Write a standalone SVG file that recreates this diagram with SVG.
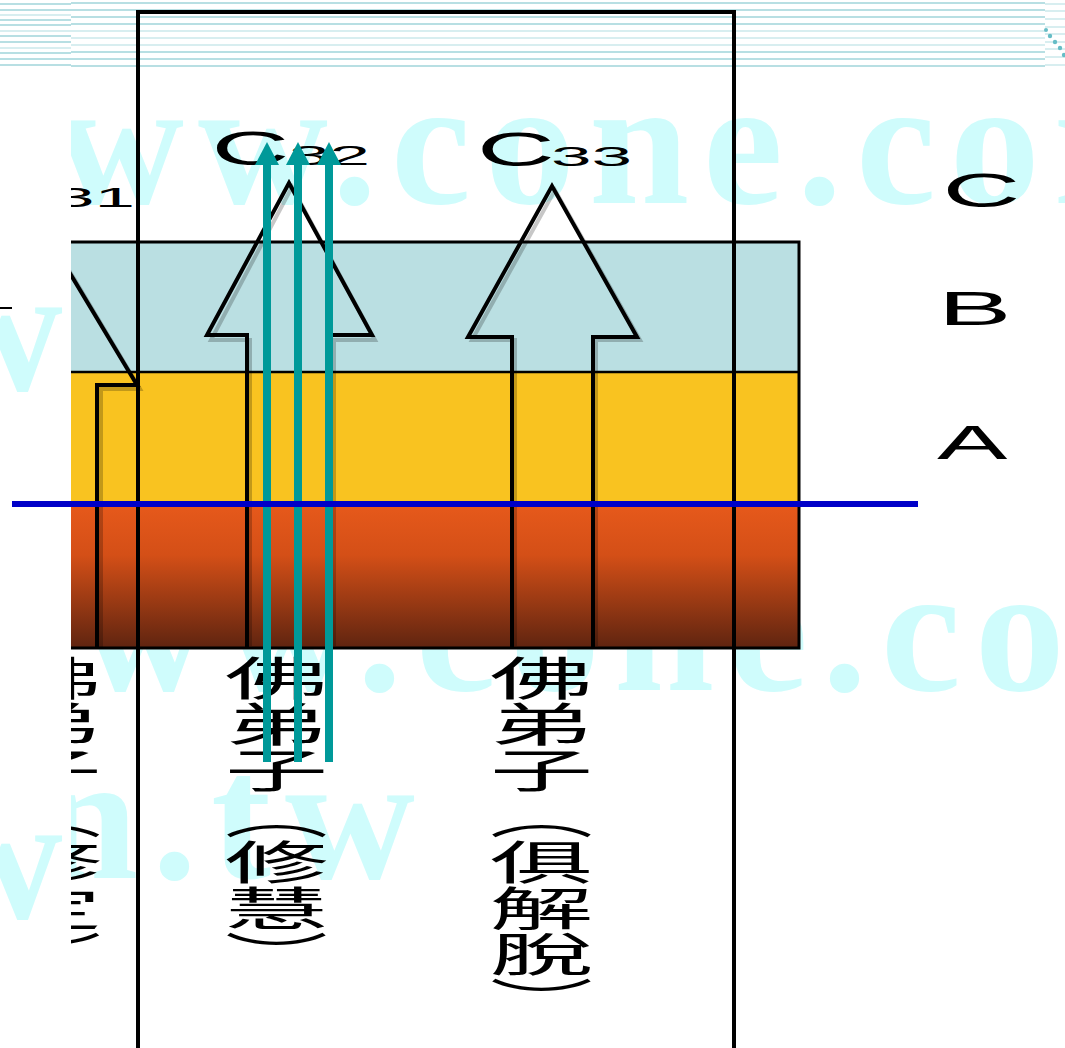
<svg xmlns="http://www.w3.org/2000/svg" width="1065" height="1048" viewBox="0 0 1065 1048">
<style>
.wm{font-family:"Liberation Serif",serif;font-weight:bold;font-size:180px;fill:#cffcfc;letter-spacing:14px}
.lat{font-family:"Liberation Sans",Arial,sans-serif;fill:#000}
.cjk{font-family:"Noto Sans CJK TC","Noto Sans CJK SC",sans-serif;font-size:46px;fill:#000;writing-mode:vertical-rl}
.arr{fill:none;stroke:#000;stroke-width:4;stroke-linejoin:miter}
.shd{fill:none;stroke:#000;stroke-opacity:0.22;stroke-width:4}
.teal{stroke:#009999;stroke-width:8;fill:none}
.sd{fill:#b8dfe3}
.sl{fill:#d8eef0}
</style>
<defs>
<linearGradient id="og" x1="0" y1="0" x2="0" y2="1">
<stop offset="0" stop-color="#e6591b"/>
<stop offset="0.35" stop-color="#d44f17"/>
<stop offset="1" stop-color="#5f2410"/>
</linearGradient>
<clipPath id="main"><rect x="71" y="0" width="994" height="1048"/></clipPath>
<clipPath id="left"><rect x="0" y="0" width="71" height="1048"/></clipPath>
<marker id="ah" viewBox="0 0 23 24" markerWidth="23" markerHeight="24" refX="0" refY="12" orient="auto" markerUnits="userSpaceOnUse">
<path d="M0,0 L23,12 L0,24 Z" fill="#009999"/>
</marker>
</defs>
<rect width="1065" height="1048" fill="#fff"/>

<g id="header-stripes">
<rect class="sd" x="71" y="2" width="974" height="2"/>
<rect class="sd" x="71" y="9" width="974" height="2"/>
<rect class="sd" x="71" y="16" width="974" height="2"/>
<rect class="sd" x="71" y="23" width="974" height="2"/>
<rect class="sl" x="71" y="30" width="974" height="2"/>
<rect class="sl" x="71" y="37" width="974" height="2"/>
<rect class="sl" x="71" y="44" width="974" height="2"/>
<rect class="sd" x="71" y="51" width="974" height="2"/>
<rect class="sd" x="71" y="58" width="974" height="2"/>
<rect class="sd" x="71" y="65" width="974" height="2"/>
<rect class="sd" x="0" y="3" width="71" height="2"/>
<rect class="sd" x="0" y="9" width="71" height="2"/>
<rect class="sl" x="0" y="14" width="71" height="2"/>
<rect class="sd" x="0" y="19" width="71" height="2"/>
<rect class="sd" x="0" y="24" width="71" height="2"/>
<rect class="sl" x="0" y="30" width="71" height="2"/>
<rect class="sd" x="0" y="35" width="71" height="2"/>
<rect class="sd" x="0" y="41" width="71" height="2"/>
<rect class="sl" x="0" y="47" width="71" height="2"/>
<rect class="sd" x="0" y="52" width="71" height="2"/>
<rect class="sd" x="0" y="58" width="71" height="2"/>
<rect class="sd" x="0" y="64" width="71" height="2"/>
<rect class="sl" x="1045" y="3" width="20" height="2"/>
<rect class="sl" x="1045" y="10" width="20" height="2"/>
<rect class="sl" x="1045" y="18" width="20" height="2"/>
<rect class="sl" x="1045" y="26" width="20" height="2"/>
<rect class="sl" x="1045" y="33" width="20" height="2"/>
<rect class="sl" x="1045" y="41" width="20" height="2"/>
<rect class="sl" x="1045" y="48" width="20" height="2"/>
<rect class="sl" x="1045" y="56" width="20" height="2"/>
<rect class="sl" x="1045" y="64" width="20" height="2"/>
<g fill="#66bdc6">
<circle cx="1046" cy="30" r="2"/>
<circle cx="1050" cy="36" r="2.2"/>
<circle cx="1055" cy="42" r="2.2"/>
<circle cx="1060" cy="48" r="2.2"/>
<circle cx="1064" cy="55" r="2.2"/>
</g>
</g>

<g id="watermark">
<g clip-path="url(#main)">
<text class="wm" x="-90" y="203">www.cone.com</text>
<text class="wm" x="-65" y="690">www.cone.com</text>
<text class="wm" x="38" y="878">n.tw</text>
</g>
<g clip-path="url(#left)">
<text class="wm" x="-67" y="390">w.</text>
<text class="wm" x="-67" y="918">w</text>
</g>
</g>

<g id="layers">
<rect x="71" y="242" width="728" height="130" fill="#badfe2"/>
<rect x="71" y="372" width="728" height="133" fill="#f9c320"/>
<rect x="71" y="505" width="728" height="143" fill="url(#og)"/>
<polyline points="71,242 799,242 799,648 71,648" fill="none" stroke="#000" stroke-width="3"/>
<line x1="71" y1="372" x2="799" y2="372" stroke="#000" stroke-width="2.5"/>
</g>

<g id="arrow-c31" clip-path="url(#main)">
<polyline class="shd" points="101,648 101,389 140,389 75,280 44,230"/>
<polyline class="arr" points="97,648 97,385 137,385 71,275 40,224"/>
</g>
<g id="arrow-c32">
<polyline class="shd" points="250,646 250,340 211,340 292,187 375,340 334,340 334,646"/>
<polyline class="arr" points="247,648 247,335 207,335 289,183 372,335 331,335 331,648"/>
</g>
<g id="arrow-c33">
<polyline class="shd" points="515,646 515,340 472,340 555,190 640,340 596,340 596,646"/>
<polyline class="arr" points="512,648 512,337 468,337 552,186 637,337 593,337 593,648"/>
</g>

<rect id="frame" x="138" y="12" width="596" height="1060" fill="none" stroke="#000" stroke-width="4"/>

<g id="labels">
<g clip-path="url(#main)">
<text class="lat" font-size="28" transform="translate(54,207) scale(2.6,1)">31</text>
</g>
<text class="lat" font-size="49" transform="translate(211.6,165) scale(2.2,1)">C</text>
<text class="lat" font-size="28" transform="translate(289,165) scale(2.6,1)">32</text>
<text class="lat" font-size="49" transform="translate(477,166) scale(2.2,1)">C</text>
<text class="lat" font-size="28" transform="translate(551,166) scale(2.6,1)">33</text>
<text class="lat" font-size="49" transform="translate(942.6,207) scale(2.2,1)">C</text>
<text class="lat" font-size="49" transform="translate(938,325) scale(2.25,1)">B</text>
<text class="lat" font-size="48" transform="translate(937,459) scale(2.2,1)">A</text>
<line x1="0" y1="308" x2="12" y2="308" stroke="#000" stroke-width="2"/>
</g>

<g id="text-c31" clip-path="url(#main)">
<text class="cjk" x="0" y="655" transform="translate(50,0) scale(2.25,1)">佛弟子（修定）</text>
</g>
<g id="text-c32">
<text class="cjk" x="0" y="655" transform="translate(276.5,0) scale(2.25,1)">佛弟子（修慧）</text>
</g>
<g id="text-c33">
<text class="cjk" x="0" y="655" transform="translate(541.5,0) scale(2.25,1)">佛弟子（俱解脫）</text>
</g>

<g id="connectors">
<line class="teal" x1="267" y1="762" x2="267" y2="165" marker-end="url(#ah)"/>
<line class="teal" x1="298" y1="762" x2="298" y2="165" marker-end="url(#ah)"/>
<line class="teal" x1="329" y1="762" x2="329" y2="165" marker-end="url(#ah)"/>
<line x1="12" y1="504" x2="918" y2="504" stroke="#0000c8" stroke-width="6"/>
</g>
</svg>
